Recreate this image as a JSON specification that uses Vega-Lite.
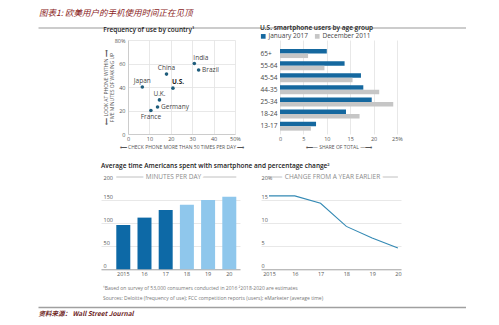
{
 "$schema": "https://vega.github.io/schema/vega-lite/v6.json",
 "padding": {"left": 35, "top": 0, "right": 0, "bottom": 0},
 "background": "white",
 "spacing": 12,
 "align": "none",
 "bounds": "flush",
 "resolve": {"scale": {"color": "independent"}, "legend": {"color": "independent"}},
 "config": {
  "font": "Open Sans",
  "view": {"stroke": null},
  "axis": {"labelFont": "Open Sans", "titleFont": "Open Sans", "labelColor": "#555", "titleColor": "#555", "ticks": false, "domain": false, "gridColor": "#e2e2e2", "gridWidth": 0.8, "labelFontSize": 5.5, "titleFontSize": 5, "titleFontWeight": "normal", "labelOverlap": false, "labelBound": false, "labelFlush": false},
  "title": {"fontSize": 6.5, "fontWeight": 600, "color": "#222", "anchor": "start", "font": "Open Sans"},
  "text": {"font": "Open Sans"}
 },
 "datasets": {
  "countries": [
   {"country": "India", "checks": 31, "look": 60},
   {"country": "Brazil", "checks": 33, "look": 54.5},
   {"country": "China", "checks": 18, "look": 51},
   {"country": "U.S.", "checks": 21, "look": 39},
   {"country": "Japan", "checks": 6.7, "look": 40},
   {"country": "U.K.", "checks": 14.7, "look": 29},
   {"country": "Germany", "checks": 13.8, "look": 23},
   {"country": "France", "checks": 10.7, "look": 20}
  ],
  "ages": [
   {"age": "65+", "period": "January 2017", "share": 10},
   {"age": "65+", "period": "December 2011", "share": 6},
   {"age": "55-64", "period": "January 2017", "share": 13.8},
   {"age": "55-64", "period": "December 2011", "share": 9.5},
   {"age": "45-54", "period": "January 2017", "share": 17.3},
   {"age": "45-54", "period": "December 2011", "share": 15.5},
   {"age": "44-35", "period": "January 2017", "share": 17.8},
   {"age": "44-35", "period": "December 2011", "share": 21.2},
   {"age": "25-34", "period": "January 2017", "share": 19.6},
   {"age": "25-34", "period": "December 2011", "share": 24.2},
   {"age": "18-24", "period": "January 2017", "share": 14.1},
   {"age": "18-24", "period": "December 2011", "share": 17},
   {"age": "13-17", "period": "January 2017", "share": 7.7},
   {"age": "13-17", "period": "December 2011", "share": 6.6}
  ],
  "minutes": [
   {"year": "2015", "minutes": 96, "kind": "actual"},
   {"year": "16", "minutes": 112, "kind": "actual"},
   {"year": "17", "minutes": 128.5, "kind": "actual"},
   {"year": "18", "minutes": 140, "kind": "estimate"},
   {"year": "19", "minutes": 150, "kind": "estimate"},
   {"year": "20", "minutes": 157, "kind": "estimate"}
  ],
  "change": [
   {"year": 2015, "pct": 15.9},
   {"year": 2016, "pct": 15.9},
   {"year": 2017, "pct": 14.3},
   {"year": 2018, "pct": 9.3},
   {"year": 2019, "pct": 6.8},
   {"year": 2020, "pct": 4.6}
  ]
 },
 "vconcat": [
  {
   "width": 428, "height": 27.5,
   "data": {"values": [{"label": "图表1: 欧美用户的手机使用时间正在见顶"}]},
   "mark": {"type": "text", "align": "left", "baseline": "middle", "font": "Noto Sans CJK SC", "fontSize": 8.5, "fontStyle": "italic", "color": "#8a2323", "dx": 1, "dy": -1},
   "encoding": {
    "text": {"field": "label"},
    "x": {"datum": 0, "type": "quantitative", "scale": {"domain": [0, 1]}, "axis": {"domain": true, "domainColor": "#9a9a9a", "domainWidth": 1.2, "labels": false, "ticks": false, "grid": false, "title": null}}
   }
  },
  {
   "spacing": 45,
   "align": "none",
   "bounds": "flush",
   "resolve": {"scale": {"color": "independent"}, "legend": {"color": "independent"}},
   "hconcat": [
    {"width": 45, "height": 1, "data": {"values": [{}]}, "mark": {"type": "point", "opacity": 0}, "encoding": {}},
    {
     "width": 107, "height": 94,
     "title": {"text": "Frequency of use by country¹", "offset": 5, "frame": "bounds"},
     "data": {"name": "countries"},
     "encoding": {
      "x": {"field": "checks", "type": "quantitative", "scale": {"domain": [0, 50], "nice": false}, "axis": {"values": [0, 10, 20, 30, 40, 50], "labelOverlap": false, "labelExpr": "datum.value == 50 ? '50%' : datum.label", "grid": true, "domain": true, "domainColor": "#cccccc", "labelPadding": 2, "title": "⟵ CHECK PHONE MORE THAN 50 TIMES PER DAY ⟶", "titlePadding": 3}},
      "y": {"field": "look", "type": "quantitative", "scale": {"domain": [0, 80], "nice": false}, "axis": {"values": [0, 20, 40, 60, 80], "labelOverlap": false, "labelExpr": "datum.value == 80 ? '80%' : datum.label", "grid": true, "domain": true, "domainColor": "#cccccc", "labelPadding": 3, "title": ["⟵ LOOK AT PHONE WITHIN ⟶", "FIVE MINUTES OF WAKING UP"], "titlePadding": 0, "titleLineHeight": 6}}
     },
     "layer": [
      {"mark": {"type": "circle", "size": 13, "color": "#1f5d7c", "opacity": 1}},
      {"transform": [{"filter": "datum.country == 'China' || datum.country == 'Japan' || datum.country == 'U.K.'"}], "mark": {"type": "text", "dy": -6, "fontSize": 6.5, "color": "#444"}, "encoding": {"text": {"field": "country"}}},
      {"transform": [{"filter": "datum.country == 'India'"}], "mark": {"type": "text", "align": "left", "dx": -1, "dy": -6, "fontSize": 6.5, "color": "#444"}, "encoding": {"text": {"field": "country"}}},
      {"transform": [{"filter": "datum.country == 'U.S.'"}], "mark": {"type": "text", "align": "left", "dx": -1, "dy": -6, "fontSize": 6.5, "fontWeight": "bold", "color": "#222"}, "encoding": {"text": {"field": "country"}}},
      {"transform": [{"filter": "datum.country == 'Brazil' || datum.country == 'Germany'"}], "mark": {"type": "text", "align": "left", "dx": 3.5, "fontSize": 6.5, "color": "#444"}, "encoding": {"text": {"field": "country"}}},
      {"transform": [{"filter": "datum.country == 'France'"}], "mark": {"type": "text", "dy": 6, "fontSize": 6.5, "color": "#444"}, "encoding": {"text": {"field": "country"}}}
     ]
    },
    {
     "width": 117, "height": 94,
     "title": {"text": "U.S. smartphone users by age group", "offset": 2, "frame": "bounds"},
     "data": {"name": "ages"},
     "mark": {"type": "bar"},
     "encoding": {
      "y": {"field": "age", "type": "nominal", "sort": ["65+", "55-64", "45-54", "44-35", "25-34", "18-24", "13-17"], "scale": {"paddingInner": 0.256, "paddingOuter": 0.513, "align": 0.73}, "axis": {"title": null, "labelAlign": "left", "labelPadding": 20, "labelFontSize": 6.5, "labelColor": "#444"}},
      "yOffset": {"field": "period", "sort": ["January 2017", "December 2011"], "scale": {"paddingInner": 0, "paddingOuter": 0}},
      "x": {"field": "share", "type": "quantitative", "scale": {"domain": [0, 25], "nice": false}, "axis": {"values": [0, 5, 10, 15, 20, 25], "labelOverlap": false, "labelExpr": "datum.value == 25 ? '25%' : datum.label", "grid": true, "title": "⟵— SHARE OF TOTAL —⟶", "labelPadding": 2, "titlePadding": 3}},
      "color": {"field": "period", "type": "nominal", "sort": ["January 2017", "December 2011"], "scale": {"range": ["#15689f", "#c6c6c6"]}, "legend": {"orient": "none", "legendX": -20, "legendY": -7, "direction": "horizontal", "title": null, "symbolType": "square", "symbolSize": 22, "symbolStrokeWidth": 0, "labelFontSize": 6.5, "labelColor": "#444", "labelFont": "Open Sans", "columnPadding": 6, "labelOffset": 2}}
     }
    }
   ]
  },
  {"width": 1, "height": 113, "data": {"values": [{}]}, "mark": {"type": "point", "opacity": 0}, "encoding": {}},
  {
   "spacing": 21,
   "align": "none",
   "bounds": "flush",
   "resolve": {"scale": {"color": "independent"}, "legend": {"color": "independent"}},
   "hconcat": [
    {"width": 42, "height": 1, "data": {"values": [{}]}, "mark": {"type": "point", "opacity": 0}, "encoding": {}},
    {
     "width": 139, "height": 92.3,
     "title": {"text": "Average time Americans spent with smartphone and percentage change²", "offset": 5, "frame": "bounds"},
     "layer": [
      {
       "data": {"name": "minutes"},
       "mark": {"type": "bar"},
       "encoding": {
        "x": {"field": "year", "type": "ordinal", "sort": null, "scale": {"paddingInner": 0.34, "paddingOuter": 0.448, "align": 0.805}, "axis": {"title": null, "domain": true, "domainColor": "#a8a8a8", "domainWidth": 1, "labelPadding": 2, "labelAngle": 0, "labelOverlap": false}},
        "y": {"field": "minutes", "type": "quantitative", "scale": {"domain": [0, 200], "nice": false}, "axis": {"values": [0, 50, 100, 150, 200], "labelOverlap": false, "title": null, "grid": true, "gridOpacity": {"condition": {"test": "datum.value == 200", "value": 0}, "value": 1}, "labelAlign": "left", "labelPadding": -2, "labelBaseline": {"condition": {"test": "datum.value == 200", "value": "middle"}, "value": "bottom"}, "labelOffset": {"condition": {"test": "datum.value == 200", "value": 0}, "value": -1}}},
        "color": {"field": "kind", "type": "nominal", "scale": {"domain": ["actual", "estimate"], "range": ["#0d69a6", "#8fc7ec"]}, "legend": null}
       }
      },
      {
       "data": {"values": [{}]},
       "mark": {"type": "rule", "color": "#b0b0b0", "strokeWidth": 0.8},
       "encoding": {
        "y": {"datum": 200, "type": "quantitative", "axis": {"values": [0, 50, 100, 150, 200], "labelOverlap": false, "title": null, "grid": true, "gridOpacity": {"condition": {"test": "datum.value == 200", "value": 0}, "value": 1}, "labelAlign": "left", "labelPadding": -2, "labelBaseline": {"condition": {"test": "datum.value == 200", "value": "middle"}, "value": "bottom"}, "labelOffset": {"condition": {"test": "datum.value == 200", "value": 0}, "value": -1}}},
        "x": {"datum": "2015", "type": "ordinal", "bandPosition": 0, "axis": {"title": null, "domain": true, "domainColor": "#a8a8a8", "domainWidth": 1, "labelPadding": 2, "labelAngle": 0, "labelOverlap": false}},
        "x2": {"datum": "20", "bandPosition": 1}
       }
      },
      {
       "data": {"values": [{"t": "MINUTES PER DAY"}]},
       "mark": {"type": "text", "fill": "white", "stroke": "white", "strokeWidth": 6, "fontSize": 6.5, "dx": 3},
       "encoding": {"y": {"datum": 200, "type": "quantitative", "axis": {"values": [0, 50, 100, 150, 200], "labelOverlap": false, "title": null, "grid": true, "gridOpacity": {"condition": {"test": "datum.value == 200", "value": 0}, "value": 1}, "labelAlign": "left", "labelPadding": -2, "labelBaseline": {"condition": {"test": "datum.value == 200", "value": "middle"}, "value": "bottom"}, "labelOffset": {"condition": {"test": "datum.value == 200", "value": 0}, "value": -1}}}, "text": {"field": "t"}}
      },
      {
       "data": {"values": [{"t": "MINUTES PER DAY"}]},
       "mark": {"type": "text", "color": "#8c8c8c", "fontSize": 6.5, "dx": 3},
       "encoding": {"y": {"datum": 200, "type": "quantitative", "axis": {"values": [0, 50, 100, 150, 200], "labelOverlap": false, "title": null, "grid": true, "gridOpacity": {"condition": {"test": "datum.value == 200", "value": 0}, "value": 1}, "labelAlign": "left", "labelPadding": -2, "labelBaseline": {"condition": {"test": "datum.value == 200", "value": "middle"}, "value": "bottom"}, "labelOffset": {"condition": {"test": "datum.value == 200", "value": 0}, "value": -1}}}, "text": {"field": "t"}}
      }
     ]
    },
    {
     "width": 140, "height": 92.3,
     "layer": [
      {
       "data": {"name": "change"},
       "mark": {"type": "line", "color": "#3389b4", "strokeWidth": 1.1},
       "encoding": {
        "x": {"field": "year", "type": "quantitative", "scale": {"domain": [2014.69, 2020.12], "nice": false, "zero": false}, "axis": {"values": [2015, 2016, 2017, 2018, 2019, 2020], "labelOverlap": false, "labelExpr": "datum.value == 2015 ? '2015' : slice(toString(datum.value), 2)", "title": null, "domain": true, "domainColor": "#a8a8a8", "domainWidth": 1, "labelPadding": 2, "grid": false}},
        "y": {"field": "pct", "type": "quantitative", "scale": {"domain": [0, 20], "nice": false}, "axis": {"values": [0, 5, 10, 15, 20], "labelOverlap": false, "labelExpr": "datum.value == 20 ? '20%' : datum.label", "title": null, "grid": true, "gridOpacity": {"condition": {"test": "datum.value == 20", "value": 0}, "value": 1}, "labelAlign": "left", "labelPadding": 0, "labelBaseline": {"condition": {"test": "datum.value == 20", "value": "middle"}, "value": "bottom"}, "labelOffset": {"condition": {"test": "datum.value == 20", "value": 0}, "value": -1}}}
       }
      },
      {
       "data": {"values": [{}]},
       "mark": {"type": "rule", "color": "#b0b0b0", "strokeWidth": 0.8},
       "encoding": {
        "y": {"datum": 20, "type": "quantitative", "axis": {"values": [0, 5, 10, 15, 20], "labelOverlap": false, "labelExpr": "datum.value == 20 ? '20%' : datum.label", "title": null, "grid": true, "gridOpacity": {"condition": {"test": "datum.value == 20", "value": 0}, "value": 1}, "labelAlign": "left", "labelPadding": 0, "labelBaseline": {"condition": {"test": "datum.value == 20", "value": "middle"}, "value": "bottom"}, "labelOffset": {"condition": {"test": "datum.value == 20", "value": 0}, "value": -1}}},
        "x": {"datum": 2015, "type": "quantitative", "axis": {"values": [2015, 2016, 2017, 2018, 2019, 2020], "labelOverlap": false, "labelExpr": "datum.value == 2015 ? '2015' : slice(toString(datum.value), 2)", "title": null, "domain": true, "domainColor": "#a8a8a8", "domainWidth": 1, "labelPadding": 2, "grid": false}},
        "x2": {"datum": 2020}
       }
      },
      {
       "data": {"values": [{"t": "CHANGE FROM A YEAR EARLIER"}]},
       "mark": {"type": "text", "fill": "white", "stroke": "white", "strokeWidth": 6, "fontSize": 6.5, "dx": 1.5},
       "encoding": {"y": {"datum": 20, "type": "quantitative", "axis": {"values": [0, 5, 10, 15, 20], "labelOverlap": false, "labelExpr": "datum.value == 20 ? '20%' : datum.label", "title": null, "grid": true, "gridOpacity": {"condition": {"test": "datum.value == 20", "value": 0}, "value": 1}, "labelAlign": "left", "labelPadding": 0, "labelBaseline": {"condition": {"test": "datum.value == 20", "value": "middle"}, "value": "bottom"}, "labelOffset": {"condition": {"test": "datum.value == 20", "value": 0}, "value": -1}}}, "text": {"field": "t"}}
      },
      {
       "data": {"values": [{"t": "CHANGE FROM A YEAR EARLIER"}]},
       "mark": {"type": "text", "color": "#8c8c8c", "fontSize": 6.5, "dx": 1.5},
       "encoding": {"y": {"datum": 20, "type": "quantitative", "axis": {"values": [0, 5, 10, 15, 20], "labelOverlap": false, "labelExpr": "datum.value == 20 ? '20%' : datum.label", "title": null, "grid": true, "gridOpacity": {"condition": {"test": "datum.value == 20", "value": 0}, "value": 1}, "labelAlign": "left", "labelPadding": 0, "labelBaseline": {"condition": {"test": "datum.value == 20", "value": "middle"}, "value": "bottom"}, "labelOffset": {"condition": {"test": "datum.value == 20", "value": 0}, "value": -1}}}, "text": {"field": "t"}}
      }
     ]
    }
   ]
  },
  {"width": 1, "height": 82, "data": {"values": [{}]}, "mark": {"type": "point", "opacity": 0}, "encoding": {}},
  {
   "width": 428, "height": 24,
   "data": {"values": [
    {"line": 1, "note": "¹Based on survey of 53,000 consumers conducted in 2016  ²2018-2020 are estimates"},
    {"line": 2, "note": "Sources: Deloitte (frequency of use); FCC competition reports (users); eMarketer (average time)"}
   ]},
   "mark": {"type": "text", "align": "left", "baseline": "middle", "fontSize": 5, "color": "#777"},
   "encoding": {
    "text": {"field": "note"},
    "y": {"field": "line", "type": "ordinal", "scale": {"type": "point", "padding": 0.7, "align": 0.379}, "axis": null},
    "x": {"datum": 0.152, "type": "quantitative", "scale": {"domain": [0, 1]}, "axis": {"domain": true, "domainColor": "#a0a0a0", "domainWidth": 1.5, "labels": false, "grid": false, "ticks": false, "title": "资料来源： Wall Street Journal", "titleAnchor": "start", "titleAlign": "left", "titleFontStyle": "italic", "titleFontWeight": "bold", "titleColor": "#6e1f1f", "titleFontSize": 6.5, "titlePadding": 3, "titleFont": "Noto Sans CJK SC", "titleBaseline": "top"}}
   }
  }
 ]
}
